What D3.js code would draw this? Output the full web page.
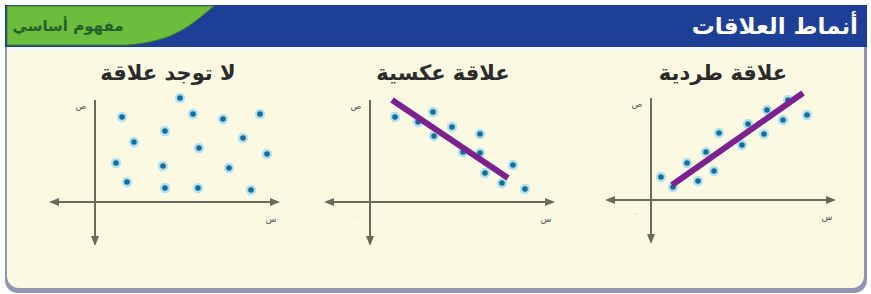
<!DOCTYPE html>
<html>
<head>
<meta charset="utf-8">
<script src="https://cdn.jsdelivr.net/npm/d3@7"></script>
<style>
  body { margin: 0; background: #fff; }
  svg { display: block; font-family: "DejaVu Sans", sans-serif; }
</style>
</head>
<body>
<svg id="chart" width="871" height="294"></svg>
<script>
// header texts
const headerTitle = "أنماط العلاقات";
const tabLabel = "مفهوم أساسي";

// panel titles, left to right on the page
const panelTitles = ["لا توجد علاقة", "علاقة عكسية", "علاقة طردية"];
const axisLabelX = "س";
const axisLabelY = "ص";
const originLabel = "٠";

// no relationship
const noneX = [8.5, 2.7, 9.8, 12.8, 16.5, 7.0, 3.9, 14.8, 10.4, 17.2, 2.1, 6.8, 13.4, 3.2, 7.0, 10.3, 15.6];
const noneY = [10.4, 8.5, 8.8, 8.3, 8.8, 7.1, 6.0, 6.4, 5.4, 4.8, 3.9, 3.6, 3.4, 2.0, 1.4, 1.4, 1.2];

// negative relationship
const negX = [2.5, 6.3, 4.8, 8.2, 6.4, 11.0, 9.3, 11.0, 11.5, 14.3, 13.2, 15.5];
const negY = [8.5, 9.0, 8.0, 7.5, 6.6, 6.8, 5.0, 4.9, 2.9, 3.7, 1.9, 1.3];
const negLineX = [2.2, 13.8];
const negLineY = [10.2, 2.4];

// positive relationship
const posX = [1.0, 2.2, 3.6, 4.7, 5.5, 6.3, 6.8, 9.1, 9.7, 11.3, 11.6, 13.2, 13.7, 15.6];
const posY = [2.3, 1.3, 3.7, 1.9, 4.8, 2.9, 6.7, 5.5, 7.6, 6.6, 9.0, 8.0, 10.0, 8.5];
const posLineX = [2.1, 15.2];
const posLineY = [1.5, 10.7];

const svg = d3.select("#chart");

// frame
const frame = svg.append("g");
frame.append("rect")
    .attr("x", 5).attr("y", 20).attr("width", 862).attr("height", 273)
    .attr("rx", 13).attr("fill", "#9096b0");
frame.append("rect")
    .attr("x", 7).attr("y", 20).attr("width", 857).attr("height", 268)
    .attr("rx", 12).attr("fill", "#fbf9e2");
frame.append("rect")
    .attr("x", 5).attr("y", 5).attr("width", 862).attr("height", 42)
    .attr("fill", "#1d3f95");
frame.append("rect")
    .attr("x", 7).attr("y", 47).attr("width", 857).attr("height", 3)
    .attr("fill", "#f4f6f4");

// green tab with a curved right edge
frame.append("path")
    .attr("d", "M7,6 L214,6 C192,24 176,41 128,45 L7,45 Z")
    .attr("fill", "#6cbd3b")
    .attr("stroke", "#3f7f2a")
    .attr("stroke-width", 1);

frame.append("text")
    .attr("x", 68).attr("y", 31)
    .attr("text-anchor", "middle")
    .attr("font-size", 15).attr("font-weight", "bold")
    .attr("fill", "#22612c")
    .text(tabLabel);

frame.append("text")
    .attr("x", 858).attr("y", 34)
    .attr("text-anchor", "end")
    .attr("font-size", 23).attr("font-weight", "bold")
    .attr("fill", "#ffffff")
    .text(headerTitle);

const panels = [
  { title: panelTitles[0], ox: 95,  oy: 202, cx: 168, xs: noneX, ys: noneY, lx: null, ly: null },
  { title: panelTitles[1], ox: 370, oy: 202, cx: 443, xs: negX,  ys: negY,  lx: negLineX, ly: negLineY },
  { title: panelTitles[2], ox: 651, oy: 200, cx: 723, xs: posX,  ys: posY,  lx: posLineX, ly: posLineY }
];

svg.append("defs").append("marker")
    .attr("id", "arrow")
    .attr("viewBox", "0 0 10 10")
    .attr("refX", 8).attr("refY", 5)
    .attr("markerWidth", 5).attr("markerHeight", 5)
    .attr("orient", "auto-start-reverse")
    .append("path")
    .attr("d", "M0,1 L10,5 L0,9 Z")
    .attr("fill", "#6b6a5c");

panels.forEach(p => {
    const x = d3.scaleLinear().domain([0, 18]).range([p.ox, p.ox + 180]);
    const y = d3.scaleLinear().domain([0, 10]).range([p.oy, p.oy - 100]);
    const g = svg.append("g");

    g.append("text")
        .attr("x", p.cx).attr("y", 80)
        .attr("text-anchor", "middle")
        .attr("font-size", 21).attr("font-weight", "bold")
        .attr("fill", "#2b2b2b")
        .text(p.title);

    // axes
    g.append("line")
        .attr("x1", x(-4.4)).attr("x2", x(18.3))
        .attr("y1", y(0)).attr("y2", y(0))
        .attr("stroke", "#6b6a5c").attr("stroke-width", 2)
        .attr("marker-start", "url(#arrow)")
        .attr("marker-end", "url(#arrow)");
    g.append("line")
        .attr("x1", x(0)).attr("x2", x(0))
        .attr("y1", y(10.2)).attr("y2", y(-4.2))
        .attr("stroke", "#6b6a5c").attr("stroke-width", 2)
        .attr("marker-end", "url(#arrow)");

    g.append("text")
        .attr("x", x(-1.4)).attr("y", y(9.3))
        .attr("text-anchor", "middle").attr("font-size", 9)
        .attr("fill", "#555").text(axisLabelY);
    g.append("text")
        .attr("x", x(17.6)).attr("y", y(-2.0))
        .attr("text-anchor", "middle").attr("font-size", 9)
        .attr("fill", "#555").text(axisLabelX);
    g.append("text")
        .attr("x", x(-1.5)).attr("y", y(-1.6))
        .attr("text-anchor", "middle").attr("font-size", 7)
        .attr("fill", "#777").text(originLabel);

    // dots
    g.selectAll("circle")
        .data(d3.zip(p.xs, p.ys))
        .join("circle")
        .attr("cx", d => x(d[0]))
        .attr("cy", d => y(d[1]))
        .attr("r", 4)
        .attr("fill", "#1c6b92")
        .attr("stroke", "#aee1f1")
        .attr("stroke-width", 2.4);

    // trend line
    if (p.lx) {
        g.append("line")
            .attr("x1", x(p.lx[0])).attr("y1", y(p.ly[0]))
            .attr("x2", x(p.lx[1])).attr("y2", y(p.ly[1]))
            .attr("stroke", "#7b2290")
            .attr("stroke-width", 6);
    }
});
</script>
</body>
</html>
